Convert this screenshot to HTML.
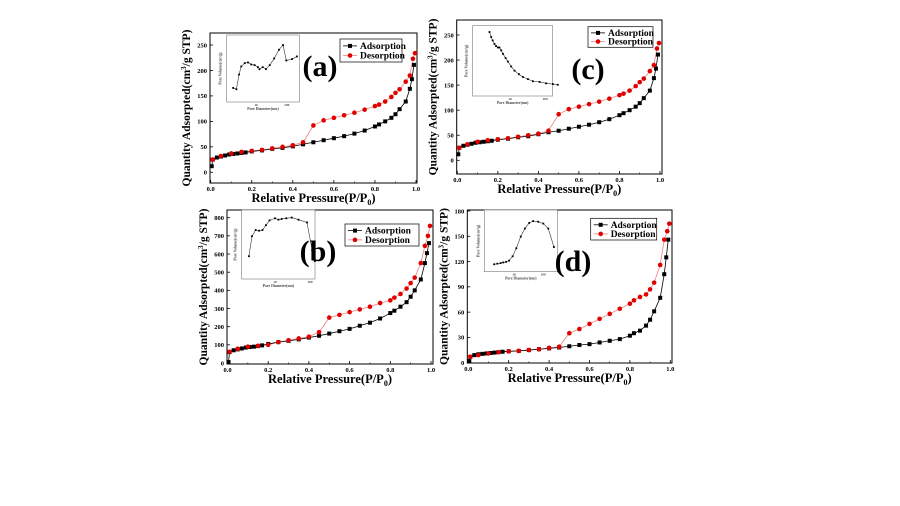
<!DOCTYPE html>
<html><head><meta charset="utf-8"><style>
body{margin:0;background:#fff}
svg{display:block}
text{font-family:"Liberation Serif",serif;font-weight:bold}
</style></head><body>
<svg id="fig" width="900" height="506" viewBox="0 0 900 506" xmlns="http://www.w3.org/2000/svg"></svg>
<script>
// ---- isotherm data ----
const adsX = [0.005,0.01,0.03,0.05,0.07,0.09,0.11,0.13,0.15,0.17,0.2,0.25,0.3,0.35,0.4,0.45,0.5,0.55,0.6,0.65,0.7,0.75,0.8,0.82,0.85,0.88,0.9,0.92,0.95,0.97,0.98,0.99];
const desX = [0.995,0.985,0.97,0.95,0.92,0.9,0.88,0.85,0.82,0.8,0.75,0.7,0.65,0.6,0.55,0.5,0.45,0.4,0.35,0.3,0.25,0.2,0.15,0.1,0.05,0.01];
const adsA = [12,25,29,31,33,35,36,37,38,39,41,43,46,48,51,55,59,63,67,71,76,82,90,94,100,107,114,124,139,164,183,211];
const desA = [234,223,190,178,163,156,148,139,133,130,123,117,112,107,102,92,59,53,50,47,44,42,40,37,32,25];
const adsC = [12,25,29,31,33,35,36,37,38,39,41,43,46,48,52,56,59,63,67,71,76,82,90,94,100,107,114,124,139,164,183,211];
const desC = [234,223,190,178,163,156,148,139,133,130,123,117,112,107,102,92,59,53,50,47,44,42,40,37,32,25];
const adsB = [5,60,70,75,80,85,88,90,93,97,105,115,122,130,140,150,162,175,188,205,222,245,275,288,310,335,365,400,460,550,605,660];
const desB = [755,700,645,550,470,440,410,380,360,345,330,310,295,280,265,250,170,145,135,125,115,100,95,90,78,62];
const adsD = [2,7,9,10,10.5,11,11.5,12,12.5,13,13.5,14,15,16,17,18,19.5,21,22,24,26,28,32,35,38,44,51,61,77,105,125,146];
const desD = [165,156,146,116,95,87,81,78,74,70,64,58,52,46,40,35,19,17.5,16,15,14,13.5,12.5,11,9,7];
const xTicks = [0,0.2,0.4,0.6,0.8,1.0];
const yTicksAC = [0,50,100,150,200,250];
const yTicksB = [0,100,200,300,400,500,600,700,800];
const yTicksD = [0,30,60,90,120,150,180];
// ---- inset pore-size data (diameter nm, relative volume) ----
const insDA = [1.8,2.3,2.8,3.3,4.3,5.5,7,9,11.5,13,16.5,21,28,39,56,76,97,150,215];
const insVA = [0.21,0.19,0.41,0.53,0.58,0.59,0.56,0.55,0.52,0.49,0.52,0.49,0.55,0.65,0.78,0.85,0.62,0.64,0.68];
const insDC = [2.6,2.9,3.2,3.6,4,4.5,5,5.6,6.3,7.5,8.7,10.8,13.5,18,23.5,32.5,45,70,108,168,232];
const insVC = [0.91,0.84,0.79,0.74,0.71,0.69,0.69,0.65,0.6,0.54,0.49,0.42,0.36,0.31,0.27,0.24,0.21,0.2,0.18,0.17,0.16];
const insDB = [1.8,2.2,2.8,3.5,4.4,5.5,7,10,12.5,15.5,21,30,47,82,115,137];
const insVB = [0.33,0.62,0.71,0.7,0.71,0.78,0.85,0.88,0.86,0.87,0.88,0.89,0.86,0.82,0.42,0.26];
const insDD = [2.1,2.7,3.5,4.3,5.4,6.8,9,12,17,23.5,33,45,67,100,148,230];
const insVD = [0.12,0.13,0.14,0.15,0.16,0.18,0.25,0.38,0.57,0.7,0.79,0.82,0.81,0.78,0.7,0.4];

const NS="http://www.w3.org/2000/svg";
const svg=document.getElementById('fig');
function mk(tag,attrs,parent){const e=document.createElementNS(NS,tag);for(const k in attrs)e.setAttribute(k,attrs[k]);(parent||svg).appendChild(e);return e;}

function panel(o){
  const g=mk('g',{});
  
  
  const sx=v=>o.x0+(o.x1-o.x0)*v;
  const sy=v=>o.yb-(o.yb-o.yt)*(v/o.ymaxTick);
  const fr=mk('rect',{x:o.L,y:o.T,width:o.R-o.L,height:o.B-o.T,fill:'none',stroke:'#000','stroke-width':1},g);
  
  
  xTicks.forEach(t=>{
    mk('line',{x1:sx(t),x2:sx(t),y1:o.B,y2:o.B-3,stroke:'#000','stroke-width':0.8},g);
    const tx=mk('text',{x:sx(t),y:o.B+8,'font-size':6.5,'text-anchor':'middle'},g);
    tx.textContent=t.toFixed(1);
    
    
  });
  for(let t=0.1;t<1;t+=0.2) mk('line',{x1:sx(t),x2:sx(t),y1:o.B,y2:o.B-1.5,stroke:'#000','stroke-width':0.6},g);
  o.yTicks.forEach(t=>{
    mk('line',{x1:o.L,x2:o.L+3,y1:sy(t),y2:sy(t),stroke:'#000','stroke-width':0.8},g);
    const tx=mk('text',{x:o.L-3,y:sy(t)+2.3,'font-size':6.5,'text-anchor':'end'},g);
    tx.textContent=t;
    
    
  });
  const xt=mk('text',{x:(o.L+o.R)/2,y:o.B+19,'font-size':12.5,'text-anchor':'middle'},g);
  xt.innerHTML='Relative Pressure(P/P<tspan font-size="8" dy="3">0</tspan><tspan dy="-3">)</tspan>';
  
  
  const yc=(o.T+o.B)/2, yx=o.L-20;
  const yt=mk('text',{x:yx,y:yc,'font-size':11.5,'text-anchor':'middle',transform:`rotate(-90 ${yx} ${yc})`},g);
  yt.innerHTML='Quantity Adsorpted(cm<tspan font-size="7" dy="-4">3</tspan><tspan dy="4">/g STP)</tspan>';
  
  
  const pa=adsX.map((x,i)=>sx(x)+','+sy(o.ads[i])).join(' ');
  const pd=desX.map((x,i)=>sx(x)+','+sy(o.des[i])).join(' ');
  const ld=mk('polyline',{points:pd,fill:'none',stroke:'#f08080','stroke-width':0.8},g);
  
  
  const la=mk('polyline',{points:pa,fill:'none',stroke:'#000','stroke-width':0.8},g);
  
  
  adsX.forEach((x,i)=>{
    const r=mk('rect',{x:sx(x)-2,y:sy(o.ads[i])-2,width:4,height:4,fill:'#000'},g);
    
    
  });
  desX.forEach((x,i)=>{
    const c=mk('circle',{cx:sx(x),cy:sy(o.des[i]),r:2.3,fill:'#e00000'},g);
    
    
  });
  const lg=mk('g',{},g);
  
  
  const [lx,ly,lw,lh]=o.leg;
  mk('rect',{x:lx,y:ly,width:lw,height:lh,fill:'#fff',stroke:'#000','stroke-width':0.7},lg);
  [['Adsorption','#000'],['Desorption','#e00000']].forEach((e,i)=>{
    const yy=ly+lh*(i===0?0.3:0.72);
    mk('line',{x1:lx+3,x2:lx+17,y1:yy,y2:yy,stroke:i?'#f08080':'#000','stroke-width':0.8},lg);
    if(i===0) mk('rect',{x:lx+8,y:yy-2,width:4,height:4,fill:'#000'},lg);
    else mk('circle',{cx:lx+10,cy:yy,r:2.3,fill:'#e00000'},lg);
    const t=mk('text',{x:lx+20,y:yy+3,'font-size':9.5},lg);
    t.textContent=e[0];
    
    
  });
  const [iL,iT,iR,iB,d10,dpx]=o.ins;
  const ig=mk('g',{},g);
  
  
  mk('rect',{x:iL,y:iT,width:iR-iL,height:iB-iT,fill:'#fff',stroke:'#777','stroke-width':0.6},ig);
  const ix=d=>d10+dpx*(Math.log10(d)-1);
  const iy=v=>iB-(iB-iT)*v;
  [10,100].forEach(d=>{
    const t=mk('text',{x:ix(d),y:iB+4,'font-size':3.5,'text-anchor':'middle',fill:'#444'},ig);
    t.textContent=d;
  });
  const it=mk('text',{x:(iL+iR)/2,y:iB+8,'font-size':3.8,'text-anchor':'middle',fill:'#444'},ig);
  it.textContent='Pore Diameter(nm)';
  const vx=iL-5, vy=(iT+iB)/2;
  const vt=mk('text',{x:vx,y:vy,'font-size':3.8,'text-anchor':'middle',fill:'#444',transform:`rotate(-90 ${vx} ${vy})`},ig);
  vt.textContent='Pore Volume(cm³/g)';
  const pp=o.insD.map((d,i)=>ix(d)+','+iy(o.insV[i])).join(' ');
  mk('polyline',{points:pp,fill:'none',stroke:'#333','stroke-width':0.6},ig);
  o.insD.forEach((d,i)=>{
    const r=mk('rect',{x:ix(d)-0.9,y:iy(o.insV[i])-0.9,width:1.8,height:1.8,fill:'#000'},ig);
    
    
  });
  const pl=mk('text',{x:o.lab[0],y:o.lab[1],'font-size':30,'text-anchor':'middle'},g);
  pl.textContent='('+o.id+')';
  
  
}

panel({id:'a',L:210,T:33,R:417,B:183,x0:210.7,x1:416,yb:172.3,yt:45,ymaxTick:250,yTicks:yTicksAC,ads:adsA,des:desA,
  leg:[340,39,62,23],lab:[320,76],ins:[226.7,35,299.3,102,256,30.7],insD:insDA,insV:insVA});
panel({id:'c',L:456.7,T:20,R:662,B:174,x0:457.3,x1:660,yb:160.3,yt:35,ymaxTick:250,yTicks:yTicksAC,ads:adsC,des:desC,
  leg:[588,26.7,65,20.6],lab:[588,79],ins:[472.7,25.7,552.7,96,510,35],insD:insDC,insV:insVC});
panel({id:'b',L:227,T:210,R:433,B:364,x0:227.5,x1:431,yb:363,yt:217.7,ymaxTick:800,yTicks:yTicksB,ads:adsB,des:desB,
  leg:[345,224,74,22],lab:[318,261],ins:[241.7,210,315,279,275,35],insD:insDB,insV:insVB});
panel({id:'d',L:467.3,T:210,R:672,B:363,x0:468.3,x1:670.3,yb:362.7,yt:211,ymaxTick:180,yTicks:yTicksD,ads:adsD,des:desD,
  leg:[590.7,218.3,66,21.7],lab:[573,271],ins:[484.3,210,557.3,271.7,514,29.3],insD:insDD,insV:insVD});
</script>
</body></html>
